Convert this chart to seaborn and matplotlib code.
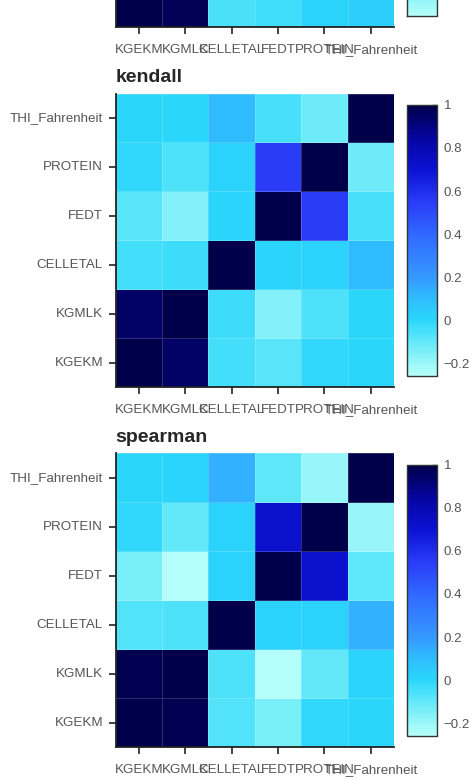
import numpy as np
import pandas as pd
import seaborn as sns
import matplotlib.pyplot as plt
from matplotlib.colors import LinearSegmentedColormap
from matplotlib.ticker import FuncFormatter

sns.set_style("white")
plt.rcParams['font.family'] = ['Liberation Sans', 'DejaVu Sans']

variables = ["KGEKM", "KGMLK", "CELLETAL", "FEDT", "PROTEIN", "THI_Fahrenheit"]

# correlation matrices (row/col order = variables)
pearson = [
    [1.00, 0.97, -0.09, -0.07, -0.02, 0.00],
    [0.97, 1.00, -0.08, -0.14, -0.05, 0.00],
    [-0.09, -0.08, 1.00, 0.01, 0.02, 0.10],
    [-0.07, -0.14, 0.01, 1.00, 0.60, -0.06],
    [-0.02, -0.05, 0.02, 0.60, 1.00, -0.14],
    [0.00, 0.00, 0.10, -0.06, -0.14, 1.00],
]
kendall = [
    [1.00, 0.95, -0.04, -0.08, -0.01, 0.00],
    [0.95, 1.00, -0.03, -0.16, -0.06, 0.00],
    [-0.04, -0.03, 1.00, 0.01, 0.02, 0.10],
    [-0.08, -0.16, 0.01, 1.00, 0.55, -0.05],
    [-0.01, -0.06, 0.02, 0.55, 1.00, -0.12],
    [0.00, 0.00, 0.10, -0.05, -0.12, 1.00],
]
spearman = [
    [1.00, 0.99, -0.07, -0.14, -0.01, 0.00],
    [0.99, 1.00, -0.06, -0.25, -0.10, 0.01],
    [-0.07, -0.06, 1.00, 0.02, 0.02, 0.13],
    [-0.14, -0.25, 0.02, 1.00, 0.72, -0.09],
    [-0.01, -0.10, 0.02, 0.72, 1.00, -0.20],
    [0.00, 0.01, 0.13, -0.09, -0.20, 1.00],
]
titles = ["pearson", "kendall", "spearman"]
vmins = [-0.30, -0.26, -0.26]

cmap = LinearSegmentedColormap.from_list("cyanblue", [
    (0.000, "#b8fffa"),
    (0.127, "#62e8f9"),
    (0.206, "#2ad6fb"),
    (0.286, "#2fbcff"),
    (0.365, "#3598ff"),
    (0.524, "#3068ff"),
    (0.643, "#2a3cf6"),
    (0.762, "#0c12d4"),
    (0.881, "#0505a0"),
    (1.000, "#00004a"),
])

fig = plt.figure(figsize=(4.74, 7.8), dpi=100)

step = 0.4615
fmt = FuncFormatter(lambda v, p: ("%g" % round(v, 2)).replace("-", "\u2212"))

for i, (name, mat) in enumerate(zip(titles, [pearson, kendall, spearman])):
    ax = fig.add_axes([0.2437, 0.9653 - i * step, 0.5876, 0.3763])
    cax = fig.add_axes([0.858, 0.518 + step - i * step, 0.0633, 0.3474])
    df = pd.DataFrame(mat, index=variables, columns=variables)
    sns.heatmap(df, ax=ax, cbar_ax=cax, cmap=cmap, vmin=vmins[i], vmax=1,
                linewidths=0.4, linecolor=(1, 1, 1, 0.18), square=False)
    ax.invert_yaxis()
    ax.set_title(name, loc="left", fontsize=14, fontweight="bold", pad=8)
    ax.tick_params(axis="both", which="both", length=5, width=1.2, color="#222222",
                   labelcolor="#555555", labelsize=9.6, bottom=True, left=True)
    ax.tick_params(axis="x", pad=7)
    ax.tick_params(axis="y", pad=4)
    plt.setp(ax.get_xticklabels(), rotation=0)
    plt.setp(ax.get_yticklabels(), rotation=0)
    for side in ["left", "bottom"]:
        ax.spines[side].set_visible(True)
        ax.spines[side].set_color("#222222")
        ax.spines[side].set_linewidth(1.3)
    for side in ["top", "right"]:
        ax.spines[side].set_visible(False)

    cax.set_yticks([-0.2, 0, 0.2, 0.4, 0.6, 0.8, 1.0])
    cax.yaxis.set_major_formatter(fmt)
    cax.tick_params(axis="y", direction="in", length=3.6, width=1, color="#222222",
                    labelcolor="#555555", labelsize=9.6, right=True, pad=5)
    cb = ax.collections[0].colorbar
    cb.outline.set_visible(True)
    cb.outline.set_edgecolor("#333333")
    cb.outline.set_linewidth(1)

    if i == 0:
        # the upper panel is cropped off the top: only its last row shows
        ax.tick_params(axis="y", left=False, labelleft=False)
        cax.tick_params(axis="y", right=False, labelright=False)

fig.savefig("out.png", dpi=100)
